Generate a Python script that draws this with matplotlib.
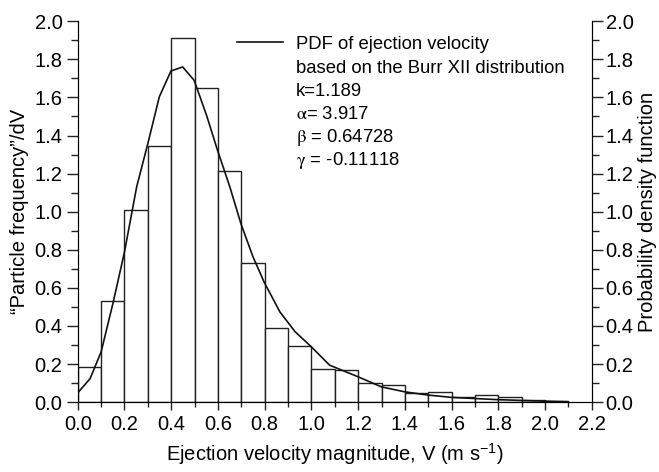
import numpy as np
import matplotlib.pyplot as plt
from matplotlib.ticker import MultipleLocator

plt.rcParams['font.family'] = ['Liberation Sans', 'DejaVu Sans']
plt.rcParams['mathtext.fontset'] = 'stix'

# histogram (bin edges 0.0 .. 2.1, width 0.1)
bin_left = np.arange(0.0, 2.1, 0.1)
bar_height = [0.185, 0.53, 1.01, 1.347, 1.914, 1.652, 1.213, 0.728, 0.387, 0.294,
              0.172, 0.168, 0.103, 0.089, 0.046, 0.051, 0.025, 0.040, 0.025, 0.010, 0.005]

# Burr XII pdf
pdf_v = [0.0, 0.053, 0.1, 0.152, 0.2, 0.252, 0.3, 0.349, 0.399, 0.449, 0.498, 0.551,
         0.598, 0.651, 0.698, 0.75, 0.797, 0.865, 0.93, 1.0, 1.078, 1.2, 1.3, 1.4,
         1.5, 1.6, 1.8, 2.0, 2.1]
pdf_y = [0.049, 0.124, 0.264, 0.526, 0.789, 1.13, 1.358, 1.603, 1.739, 1.76, 1.69, 1.507,
         1.323, 1.13, 0.938, 0.763, 0.632, 0.474, 0.37, 0.29, 0.194, 0.133, 0.08, 0.054,
         0.037, 0.025, 0.013, 0.005, 0.002]

param_lines = ['based on the Burr XII distribution',
               'k=1.189',
               '$\\mathrm{\\alpha}$= 3.917',
               '$\\mathrm{\\beta}$ = 0.64728',
               '$\\mathrm{\\gamma}$ = -0.11118']

fs_tick = 14.5
fs_label = 14.5
fs_leg = 13.3

fig = plt.figure(figsize=(6.59, 4.72), dpi=100)
ax = fig.add_axes([0.118, 0.148, 0.78, 0.807])

ax.bar(bin_left, bar_height, width=0.1, align='edge', facecolor='white',
       edgecolor='#222222', linewidth=1.0)
line, = ax.plot(pdf_v, pdf_y, color='#111111', linewidth=1.2)

ax.set_xlim(0, 2.2)
ax.set_ylim(0, 2.0)
ax.xaxis.set_major_locator(MultipleLocator(0.2))
ax.xaxis.set_minor_locator(MultipleLocator(0.1))
ax.yaxis.set_major_locator(MultipleLocator(0.2))
ax.yaxis.set_minor_locator(MultipleLocator(0.1))
ax.set_xticklabels([f'{v:.1f}' for v in ax.get_xticks()])
ax.set_yticklabels([f'{v:.1f}' for v in ax.get_yticks()])
ax.spines['top'].set_visible(False)
ax.tick_params(which='major', width=1, labelsize=fs_tick, color='#222222', pad=3)
ax.tick_params(axis='y', which='major', length=8)
ax.tick_params(axis='x', which='major', length=6)
ax.tick_params(axis='y', which='minor', length=5, width=1, color='#222222')
ax.tick_params(axis='x', which='minor', length=3.5, width=1, color='#222222')
ax.set_ylabel('\u201cParticle frequency\u201d/dV', fontsize=fs_label, labelpad=4)
ax.set_xlabel('Ejection velocity magnitude, V (m s$^{\\mathregular{-1}}$)',
              fontsize=fs_label, labelpad=6)

ax2 = ax.twinx()
ax2.set_ylim(0, 2.0)
ax2.yaxis.set_major_locator(MultipleLocator(0.2))
ax2.yaxis.set_minor_locator(MultipleLocator(0.1))
ax2.set_yticklabels([f'{v:.1f}' for v in ax2.get_yticks()])
ax2.spines['top'].set_visible(False)
ax2.tick_params(which='major', length=8, width=1, labelsize=fs_tick, color='#222222', pad=2)
ax2.tick_params(which='minor', length=5, width=1, color='#222222')
ax2.set_ylabel('Probability density function', fontsize=fs_label, labelpad=3)

ax.legend([line], ['PDF of ejection velocity'], loc='center left',
          bbox_to_anchor=(0.309, 0.94), frameon=False, fontsize=fs_leg,
          handlelength=2.5, handletextpad=0.7, borderpad=0, borderaxespad=0)
for i, txt in enumerate(param_lines):
    ax.text(0.424, 0.88 - i * 0.0595, txt, transform=ax.transAxes, fontsize=fs_leg,
            va='center_baseline', ha='left')

fig.savefig('out.png', dpi=100)
